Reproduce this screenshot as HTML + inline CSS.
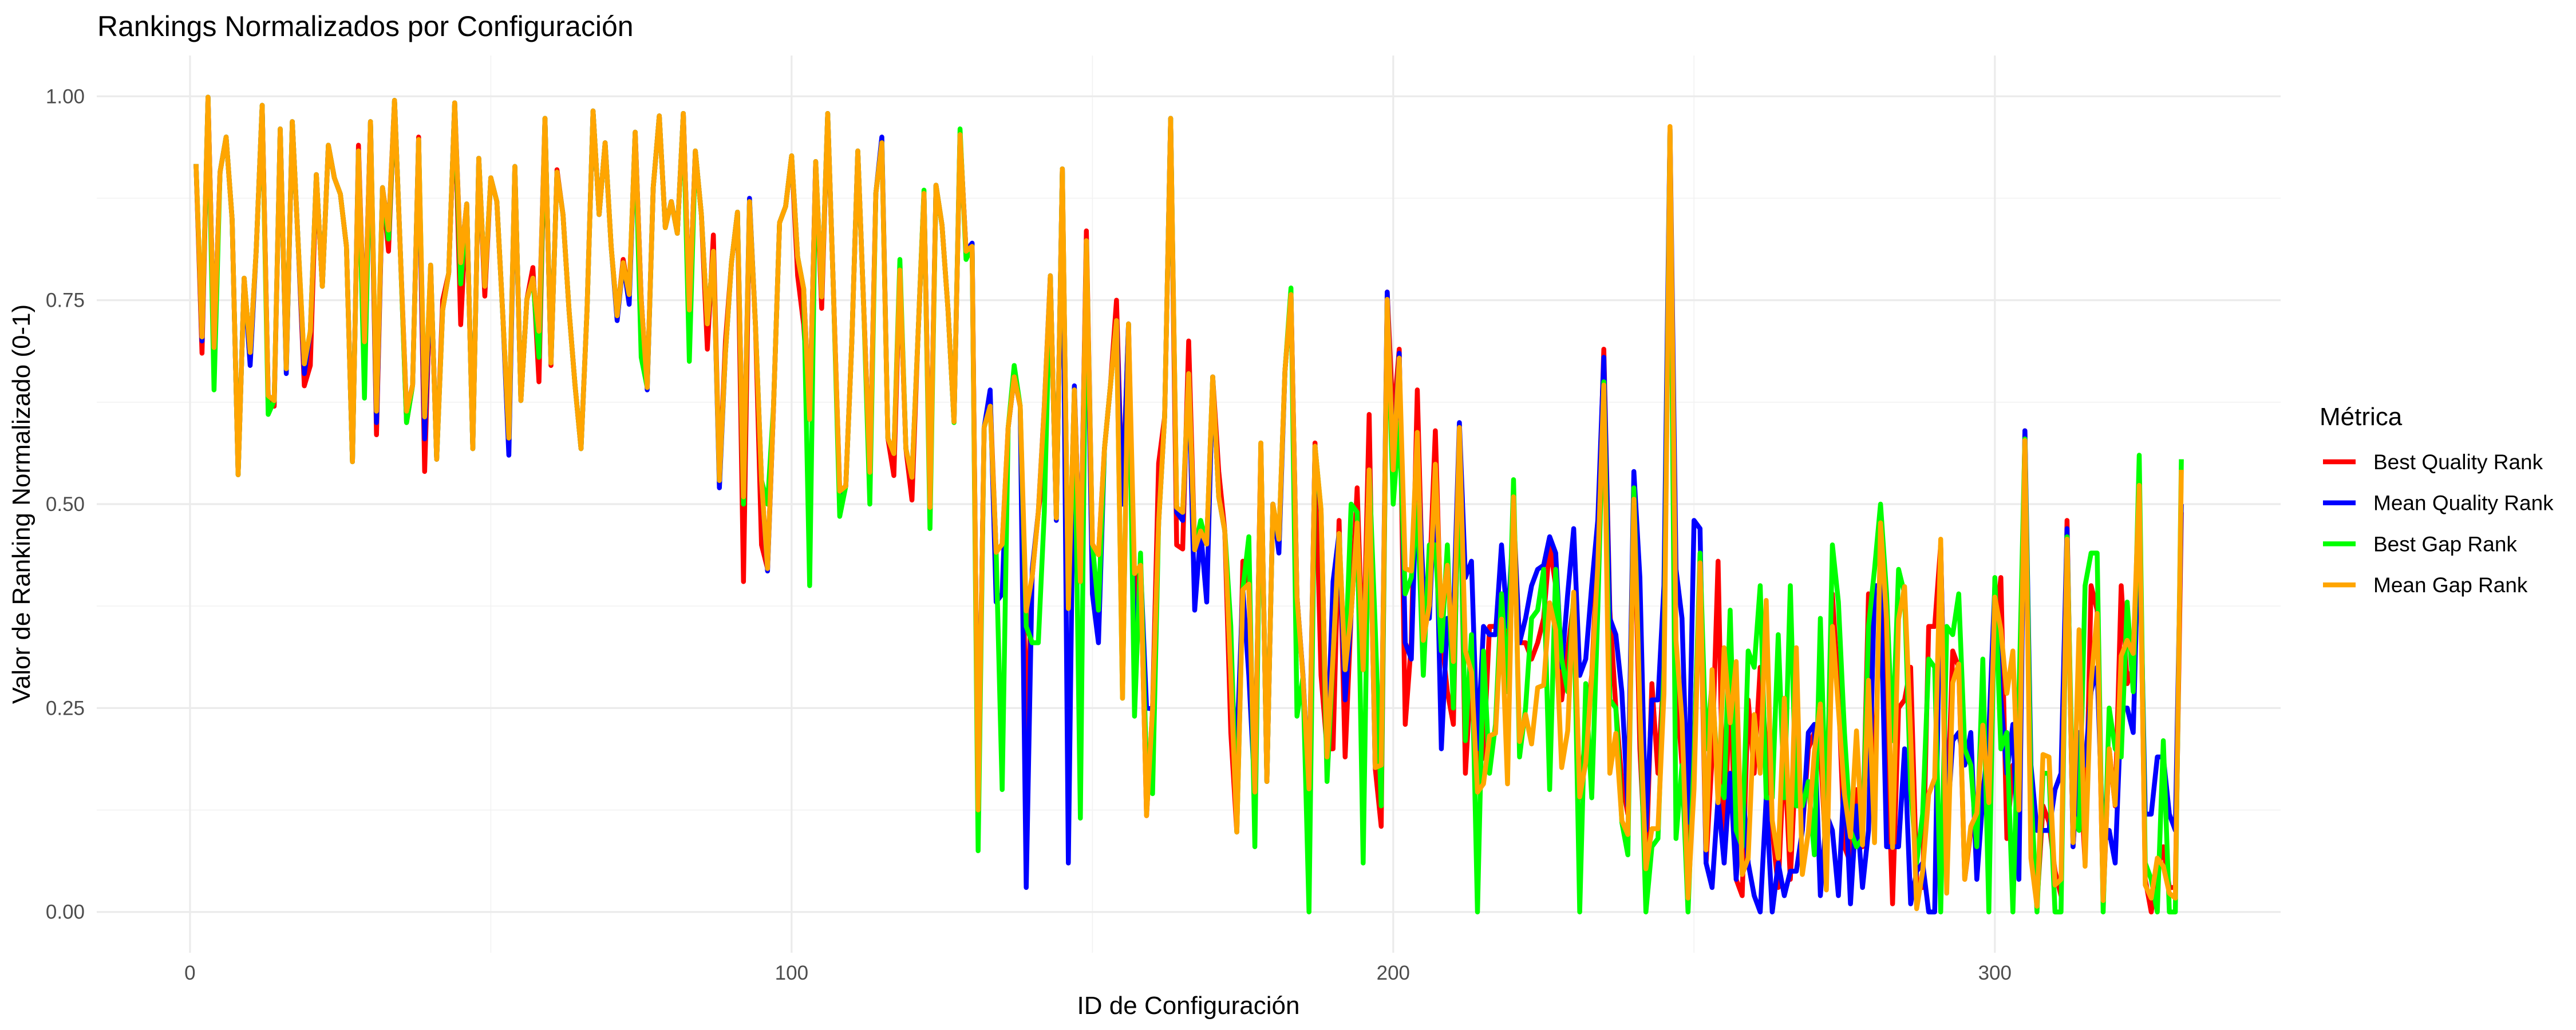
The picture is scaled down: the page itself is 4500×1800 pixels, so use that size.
<!DOCTYPE html>
<html><head><meta charset="utf-8"><style>
html,body{margin:0;padding:0;background:#fff;}
svg{display:block;font-family:"Liberation Sans",Arial,sans-serif;}
</style></head><body>
<svg id="chart" width="4500" height="1800" viewBox="0 0 4500 1800" xmlns="http://www.w3.org/2000/svg">
<rect x="0" y="0" width="4500" height="1800" fill="#fff"/>
<g id="grid"></g>
<g id="series"></g>
<g id="axes"></g>
<text x="170" y="63" font-size="50" fill="#000">Rankings Normalizados por Configuración</text>
<text x="2076" y="1772" font-size="44" text-anchor="middle" fill="#000">ID de Configuración</text>
<text transform="translate(52,881) rotate(-90)" font-size="44" text-anchor="middle" fill="#000">Valor de Ranking Normalizado (0-1)</text>
<g id="legend">
<text x="4052" y="743" font-size="44" fill="#000">Métrica</text>
</g>
</svg>
<script>
const seriesNames = ["Best Quality Rank","Mean Quality Rank","Best Gap Rank","Mean Gap Rank"];
const seriesColors = ["#ff0000","#0000ff","#00ff00","#ffa500"];
const yTicks = [0,0.25,0.5,0.75,1];
const yTickLabels = ["0.00","0.25","0.50","0.75","1.00"];
const xTicks = [0,100,200,300];
const xTickLabels = ["0","100","200","300"];
const bestQuality = [.917,.685,.999,.692,.907,.95,.849,.536,.777,.686,
.81,.989,.633,.62,.96,.666,.969,.816,.645,.67,
.904,.767,.94,.9,.88,.816,.552,.94,.699,.969,
.585,.888,.81,.995,.803,.6,.646,.95,.54,.79,
.555,.75,.783,.992,.72,.868,.568,.924,.755,.9,
.871,.731,.581,.914,.627,.751,.79,.65,.973,.67,
.91,.855,.738,.646,.568,.738,.982,.855,.943,.816,
.731,.80,.757,.956,.751,.643,.888,.976,.839,.871,
.832,.979,.738,.933,.855,.69,.83,.529,.70,.796,
.858,.405,.871,.718,.45,.421,.62,.845,.865,.927,
.78,.72,.604,.92,.74,.979,.751,.516,.522,.699,
.933,.738,.539,.881,.943,.581,.535,.787,.568,.505,
.705,.881,.496,.891,.842,.738,.601,.953,.81,.816,
.12,.594,.63,.441,.451,.594,.656,.62,.21,.412,
.49,.55,.78,.483,.911,.372,.64,.405,.835,.451,
.438,.568,.646,.75,.5,.721,.38,.425,.118,.249,
.55,.607,.973,.45,.445,.70,.444,.467,.451,.656,
.54,.467,.22,.098,.43,.402,.147,.575,.16,.5,
.457,.663,.757,.386,.288,.13,.575,.29,.2,.2,
.48,.19,.366,.52,.297,.61,.177,.105,.76,.6,
.69,.23,.33,.64,.36,.4,.59,.34,.27,.23,
.59,.17,.3,.18,.19,.35,.35,.38,.3,.49,
.33,.33,.31,.33,.36,.45,.4,.26,.32,.38,
.14,.22,.29,.45,.69,.37,.25,.16,.12,.52,
.2,.05,.28,.17,.3,.96,.28,.18,.05,.2,
.42,.06,.19,.43,.06,.3,.04,.02,.26,.17,
.3,.2,.1,.03,.2,.04,.2,.1,.2,.22,
.2,.06,.39,.27,.08,.06,.15,.08,.39,.12,
.45,.23,.01,.25,.26,.3,.04,.03,.35,.35,
.45,.1,.32,.3,.04,.1,.12,.15,.2,.34,
.41,.09,.18,.13,.59,.08,.01,.13,.11,.05,
.02,.48,.08,.2,.06,.4,.37,.01,.2,.13,
.4,.28,.3,.52,.04,0,.05,.08,.03,.03,.49];
const meanQuality = [.917,.70,.999,.692,.907,.95,.849,.536,.777,.67,
.81,.989,.633,.627,.96,.66,.969,.816,.66,.712,
.904,.767,.94,.9,.88,.816,.552,.933,.699,.969,
.60,.888,.836,.995,.803,.614,.646,.947,.58,.793,
.555,.738,.783,.992,.796,.868,.568,.924,.767,.9,
.871,.731,.56,.914,.627,.751,.777,.712,.973,.673,
.907,.855,.738,.646,.568,.738,.982,.855,.943,.816,
.725,.796,.745,.956,.751,.64,.888,.976,.839,.871,
.832,.979,.738,.933,.855,.721,.81,.52,.686,.796,
.858,.509,.875,.718,.529,.418,.62,.845,.865,.927,
.803,.764,.604,.92,.754,.979,.751,.51,.522,.699,
.933,.738,.539,.881,.95,.581,.562,.787,.568,.533,
.705,.881,.496,.891,.842,.738,.601,.953,.81,.82,
.12,.594,.64,.38,.39,.594,.656,.62,.03,.42,
.49,.62,.78,.48,.911,.06,.645,.405,.823,.39,
.33,.568,.646,.725,.5,.721,.3,.425,.25,.249,
.477,.607,.973,.49,.48,.66,.37,.467,.38,.656,
.509,.467,.288,.2,.395,.29,.147,.57,.16,.5,
.44,.663,.757,.386,.29,.151,.571,.49,.19,.405,
.464,.26,.366,.477,.297,.542,.177,.18,.76,.54,
.685,.33,.31,.56,.4,.36,.53,.2,.36,.36,
.6,.41,.43,.2,.35,.34,.34,.45,.35,.48,
.33,.36,.4,.42,.425,.46,.44,.3,.39,.47,
.29,.31,.4,.48,.68,.36,.34,.27,.13,.54,
.41,.1,.26,.26,.4,.96,.42,.36,.11,.48,
.47,.06,.03,.14,.06,.17,.04,.16,.06,.02,
0,.14,0,.06,.02,.05,.05,.1,.22,.23,
.02,.12,.1,.02,.17,.01,.13,.03,.1,.4,
.4,.08,.08,.08,.2,.01,.05,.06,0,0,
.45,.1,.21,.22,.18,.22,.04,.14,.22,.4,
.26,.17,.23,.04,.59,.18,.1,.1,.1,.15,
.17,.47,.08,.22,.18,.27,.3,.08,.1,.06,
.25,.25,.22,.49,.12,.12,.19,.19,.12,.1,.5];
const bestGap = [.917,.705,.999,.64,.907,.95,.849,.536,.777,.686,
.81,.989,.61,.627,.96,.666,.969,.816,.672,.712,
.904,.767,.94,.9,.88,.816,.552,.933,.63,.969,
.614,.888,.825,.995,.803,.6,.646,.947,.607,.793,
.555,.738,.783,.992,.77,.868,.568,.924,.767,.9,
.871,.731,.581,.914,.627,.751,.777,.68,.973,.673,
.907,.855,.738,.646,.568,.738,.982,.855,.943,.816,
.731,.796,.757,.956,.68,.643,.888,.976,.839,.871,
.832,.979,.675,.933,.855,.721,.81,.529,.686,.796,
.858,.50,.871,.718,.529,.50,.62,.845,.865,.927,
.803,.764,.40,.92,.754,.979,.751,.485,.522,.699,
.933,.738,.50,.881,.943,.581,.562,.80,.568,.533,
.705,.885,.47,.891,.842,.738,.60,.96,.80,.816,
.075,.594,.62,.441,.15,.594,.67,.62,.35,.33,
.33,.49,.78,.483,.911,.372,.64,.115,.823,.451,
.37,.568,.646,.725,.262,.721,.24,.44,.17,.145,
.477,.607,.973,.496,.49,.66,.444,.48,.451,.656,
.509,.467,.35,.098,.395,.46,.08,.575,.16,.5,
.457,.663,.765,.24,.288,0,.571,.493,.16,.314,
.464,.297,.5,.49,.06,.542,.35,.13,.751,.5,
.6,.39,.41,.5,.29,.45,.45,.32,.45,.25,
.57,.21,.34,0,.32,.17,.23,.39,.27,.53,
.19,.25,.36,.37,.42,.15,.42,.31,.27,.39,
0,.28,.14,.37,.65,.26,.25,.11,.07,.52,
.25,0,.08,.09,.3,.96,.09,.18,0,.19,
.44,.2,.28,.16,.14,.37,.1,.08,.32,.3,
.4,.14,.14,.34,.14,.4,.13,.13,.16,.07,
.36,.1,.45,.38,.22,.1,.08,.09,.35,.42,
.5,.39,.21,.42,.39,.15,.06,.12,.31,.3,
0,.35,.34,.39,.2,.18,.08,.31,0,.41,
.2,.22,0,.26,.58,.15,0,.17,.17,0,
0,.46,.12,.1,.4,.44,.44,0,.25,.2,
.19,.38,.27,.56,.06,.04,0,.21,0,0,.555];
const meanGap = [.917,.705,.999,.692,.907,.95,.849,.536,.777,.686,
.81,.989,.633,.627,.96,.666,.969,.816,.672,.712,
.904,.767,.94,.9,.88,.816,.552,.933,.699,.969,
.614,.888,.836,.995,.803,.614,.646,.947,.607,.793,
.555,.738,.783,.992,.796,.868,.568,.924,.767,.9,
.871,.731,.581,.914,.627,.751,.777,.712,.973,.673,
.907,.855,.738,.646,.568,.738,.982,.855,.943,.816,
.731,.796,.757,.956,.751,.643,.888,.976,.839,.871,
.832,.979,.738,.933,.855,.721,.81,.529,.686,.796,
.858,.509,.871,.718,.529,.421,.62,.845,.865,.927,
.803,.764,.604,.92,.754,.979,.751,.516,.522,.699,
.933,.738,.539,.881,.943,.581,.562,.787,.568,.533,
.705,.881,.496,.891,.842,.738,.601,.953,.81,.816,
.125,.594,.62,.441,.451,.594,.656,.62,.369,.412,
.49,.62,.78,.483,.911,.372,.64,.405,.823,.451,
.438,.568,.646,.725,.262,.721,.415,.425,.118,.249,
.477,.607,.973,.496,.49,.66,.444,.467,.451,.656,
.509,.467,.288,.098,.395,.402,.147,.575,.16,.5,
.457,.663,.757,.386,.288,.151,.571,.493,.19,.314,
.464,.297,.366,.477,.297,.542,.177,.18,.751,.542,
.679,.421,.418,.588,.333,.376,.549,.363,.425,.307,
.594,.32,.294,.147,.157,.216,.219,.359,.157,.509,
.209,.242,.206,.275,.278,.379,.346,.177,.222,.392,
.141,.183,.288,.425,.646,.17,.219,.112,.095,.506,
.249,.053,.102,.102,.268,.963,.333,.235,.017,.151,
.428,.076,.297,.134,.324,.232,.307,.046,.066,.242,
.17,.382,.112,.066,.262,.076,.324,.046,.098,.196,
.255,.027,.35,.249,.144,.092,.222,.082,.284,.085,
.477,.359,.079,.359,.399,.216,.004,.05,.144,.164,
.457,.023,.281,.304,.04,.105,.121,.229,.134,.386,
.346,.268,.32,.125,.578,.066,.007,.193,.19,.033,
.04,.457,.085,.346,.056,.281,.366,.014,.2,.131,
.314,.333,.317,.523,.033,.017,.066,.056,.023,.017,.542];

const NS = "http://www.w3.org/2000/svg";
const panel = {left:169, right:3984, top:97, bottom:1665};
const xDomain = [-15.5, 347.5];
const yDomain = [-0.05, 1.05];
function xScale(v){ return panel.left + (v - xDomain[0]) / (xDomain[1]-xDomain[0]) * (panel.right-panel.left); }
function yScale(v){ return panel.bottom - (v - yDomain[0]) / (yDomain[1]-yDomain[0]) * (panel.bottom-panel.top); }
function mk(tag, attrs, parent){ const e=document.createElementNS(NS,tag); for(const k in attrs) e.setAttribute(k,attrs[k]); parent.appendChild(e); return e; }

const grid = document.getElementById('grid');
// minor gridlines
for (let i=0;i<yTicks.length-1;i++){
  const v=(yTicks[i]+yTicks[i+1])/2;
  const l=mk('line',{x1:panel.left,x2:panel.right,y1:yScale(v),y2:yScale(v),stroke:'#f2f2f2','stroke-width':1.6},grid);
  
  
}
for (let i=0;i<xTicks.length-1;i++){
  const v=(xTicks[i]+xTicks[i+1])/2;
  const l=mk('line',{y1:panel.top,y2:panel.bottom,x1:xScale(v),x2:xScale(v),stroke:'#f2f2f2','stroke-width':1.6},grid);
  
  
}
const axes = document.getElementById('axes');
yTicks.forEach((v,i)=>{
  const l=mk('line',{x1:panel.left,x2:panel.right,y1:yScale(v),y2:yScale(v),stroke:'#ebebeb','stroke-width':3.2},grid);
  
  
  const t=mk('text',{x:148,y:yScale(v)+12,'font-size':35,'text-anchor':'end',fill:'#4d4d4d'},axes);
  t.textContent=yTickLabels[i];
  
  
});
xTicks.forEach((v,i)=>{
  const l=mk('line',{y1:panel.top,y2:panel.bottom,x1:xScale(v),x2:xScale(v),stroke:'#ebebeb','stroke-width':3.2},grid);
  
  
  const t=mk('text',{x:xScale(v),y:1712,'font-size':35,'text-anchor':'middle',fill:'#4d4d4d'},axes);
  t.textContent=xTickLabels[i];
  
  
});

const seriesData = [bestQuality, meanQuality, bestGap, meanGap];
const seriesKeys = ['best-quality-line','mean-quality-line','best-gap-line','mean-gap-line'];
const sg = document.getElementById('series');
seriesData.forEach((arr,s)=>{
  const pts = arr.map((v,i)=> xScale(i+1).toFixed(1)+','+yScale(v).toFixed(1)).join(' ');
  const p=mk('polyline',{points:pts,fill:'none',stroke:seriesColors[s],'stroke-width':8.5,'stroke-linejoin':'round','stroke-linecap':'butt'},sg);
  
  
});

const lg = document.getElementById('legend');
seriesNames.forEach((n,i)=>{
  const y = 807 + i*71.7;
  const l=mk('line',{x1:4058,x2:4115,y1:y,y2:y,stroke:seriesColors[i],'stroke-width':8.5},lg);
  
  
  const t=mk('text',{x:4146,y:y+13,'font-size':37,fill:'#000'},lg);
  t.textContent=n;
  
  
});
</script>
</body></html>
